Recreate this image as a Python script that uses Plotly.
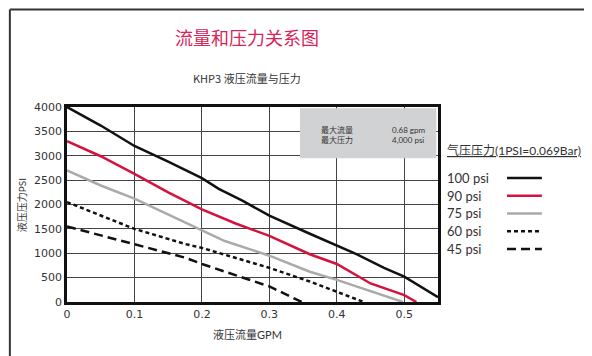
import plotly.graph_objects as go

# flow (GPM) vs hydraulic pressure (PSI) for each air pressure
names = ["100 psi", "90 psi", "75 psi", "60 psi", "45 psi"]

x_100 = [0, 0.05, 0.1, 0.15, 0.2, 0.225, 0.26, 0.3, 0.36, 0.4, 0.43, 0.47, 0.5, 0.55]
y_100 = [4000, 3620, 3200, 2880, 2540, 2320, 2080, 1770, 1400, 1150, 975, 700, 520, 100]

x_90 = [0, 0.05, 0.1, 0.15, 0.2, 0.25, 0.3, 0.36, 0.4, 0.45, 0.5, 0.518]
y_90 = [3300, 2990, 2630, 2250, 1900, 1610, 1355, 980, 780, 380, 140, 0]

x_75 = [0, 0.05, 0.1, 0.15, 0.2, 0.234, 0.3, 0.36, 0.4, 0.498]
y_75 = [2700, 2390, 2120, 1800, 1480, 1250, 950, 620, 455, 0]

x_60 = [0, 0.1, 0.175, 0.2, 0.3, 0.36, 0.44]
y_60 = [2050, 1500, 1190, 1110, 700, 420, 0]

x_45 = [0, 0.1, 0.175, 0.2, 0.3, 0.348]
y_45 = [1550, 1180, 910, 780, 320, 0]

xs = [x_100, x_90, x_75, x_60, x_45]
ys = [y_100, y_90, y_75, y_60, y_45]
colors = ["#111111", "#d5123f", "#aaaaaa", "#111111", "#111111"]
dashes = ["solid", "solid", "solid", "4px,3px", "9px,5px"]

x_ticks = [0, 0.1, 0.2, 0.3, 0.4, 0.5]
y_ticks = [0, 500, 1000, 1500, 2000, 2500, 3000, 3500, 4000]

cjk = "Noto Sans CJK SC"
mixed = "Lato, Noto Sans CJK SC"

fig = go.Figure()
for name, x, y, c, d in zip(names, xs, ys, colors, dashes):
    fig.add_trace(go.Scatter(x=x, y=y, mode="lines", name=name,
                             line=dict(color=c, width=2.5, dash=d)))

shapes = [
    # grey info box in the top right corner
    dict(type="rect", xref="x", yref="y", x0=0.3454, x1=0.5475, y0=2948, y1=3975,
         fillcolor="#d1d2d4", line=dict(width=0), layer="above"),
    # outer frame (top and left)
    dict(type="line", xref="paper", yref="paper", x0=-0.154, x1=1.5, y0=1.50, y1=1.50,
         line=dict(color="#333333", width=2)),
    dict(type="line", xref="paper", yref="paper", x0=-0.154, x1=-0.154, y0=1.50, y1=-0.4,
         line=dict(color="#333333", width=2)),
]

annotations = [
    dict(text="流量和压力关系图", xref="paper", yref="paper", x=0.4865, y=1.359,
         xanchor="center", yanchor="middle", showarrow=False,
         font=dict(family=cjk, size=18, color="#d8235a")),
    dict(text="KHP3 液压流量与压力", xref="paper", yref="paper", x=0.4865, y=1.149,
         xanchor="center", yanchor="middle", showarrow=False,
         font=dict(family=cjk, size=11, color="#333333")),
    dict(text="液压压力PSI", xref="paper", yref="paper", x=-0.121, y=0.497, textangle=-90,
         xanchor="center", yanchor="middle", showarrow=False,
         font=dict(family=mixed, size=10, color="#333333")),
    dict(text="液压流量GPM", xref="paper", yref="paper", x=0.4865, y=-0.169,
         xanchor="center", yanchor="middle", showarrow=False,
         font=dict(family=mixed, size=11, color="#333333")),
    dict(text="最大流量<br>最大压力", xref="x", yref="y", x=0.3736, y=3436, xanchor="left",
         yanchor="middle", align="left", showarrow=False,
         font=dict(family=cjk, size=8, color="#333333")),
    dict(text="0.68 gpm<br>4,000 psi", xref="x", yref="y", x=0.4788, y=3436, xanchor="left",
         yanchor="middle", align="left", showarrow=False,
         font=dict(family="Lato", size=8, color="#333333")),
    dict(text="<u>气压压力(1PSI=0.069Bar)</u>", xref="paper", yref="paper", x=1.019, y=0.779,
         xanchor="left", yanchor="middle", showarrow=False,
         font=dict(family=mixed, size=12, color="#333333")),
]

# hand-made legend: label on the left, line sample on the right
for i, (name, c, d) in enumerate(zip(names, colors, dashes)):
    ly = 0.636 - i * 0.091
    annotations.append(dict(text=name, xref="paper", yref="paper", x=1.019, y=ly,
                            xanchor="left", yanchor="middle", showarrow=False,
                            font=dict(family="Lato", size=13, color="#333333")))
    shapes.append(dict(type="line", xref="paper", yref="paper", x0=1.186, x1=1.28, y0=ly, y1=ly,
                       line=dict(color=c, width=2.5, dash=d)))

# the page body adds an 8px offset, so the figure is 8px smaller and shifted
fig.update_layout(
    width=584, height=348,
    margin=dict(l=59, r=154, t=99, b=54),
    plot_bgcolor="white", paper_bgcolor="white",
    showlegend=False,
    shapes=shapes, annotations=annotations,
    xaxis=dict(range=[0, 0.55], tickvals=x_ticks, ticktext=[str(v) for v in x_ticks],
               showgrid=True, gridcolor="#444444", gridwidth=1.2, zeroline=False,
               showline=True, mirror=True, linecolor="#111111", linewidth=2.5,
               ticks="", tickfont=dict(family="DejaVu Sans", size=11, color="#333333")),
    yaxis=dict(range=[0, 4000], tickvals=y_ticks,
               showgrid=True, gridcolor="#444444", gridwidth=1.2, zeroline=False,
               showline=True, mirror=True, linecolor="#111111", linewidth=2.5,
               ticks="", tickfont=dict(family="DejaVu Sans", size=11, color="#333333")),
)

fig.write_html("out.html")
